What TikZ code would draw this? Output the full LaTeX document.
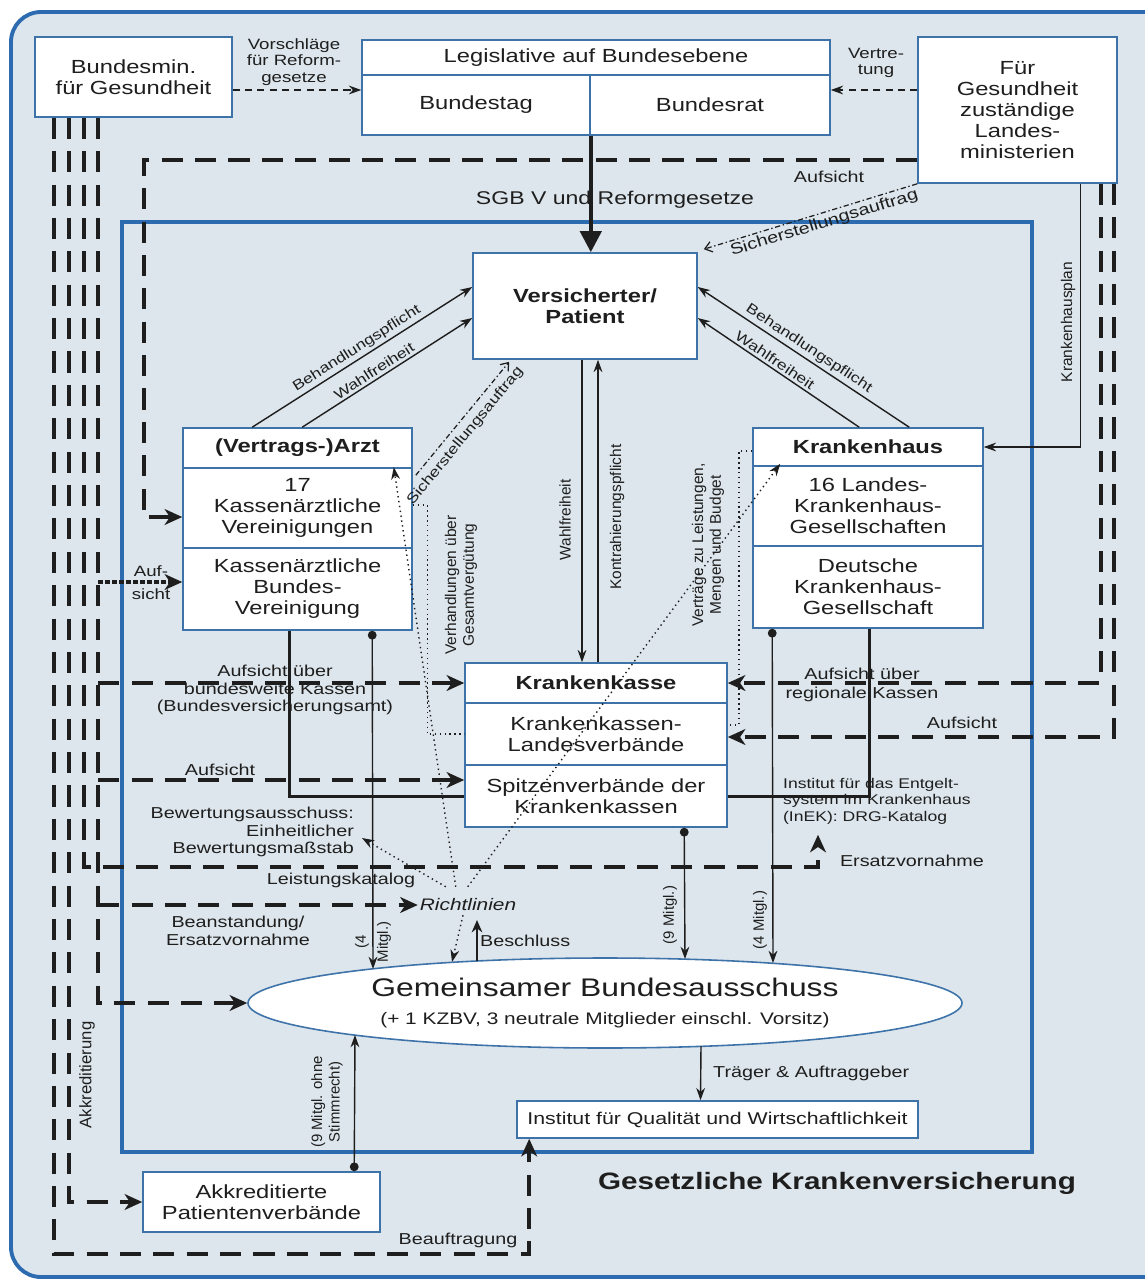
\documentclass[tikz,border=0pt]{standalone}
\usepackage{fontspec}
\setmainfont{Liberation Sans}[FakeStretch=1.25]
\newfontfamily\upfont{Liberation Sans}
\usetikzlibrary{arrows.meta, calc, shapes.geometric}

\definecolor{bgblue}{HTML}{DDE6EC}
\definecolor{frameblue}{HTML}{2C6BB0}
\definecolor{boxblue}{HTML}{3D73A8}
\definecolor{ink}{HTML}{1E1E1E}

\tikzset{
  box/.style 2 args={draw=boxblue, line width=0.9pt, fill=white, text=ink,
    minimum width=#1*0.02cm, minimum height=#2*0.02cm, inner sep=1pt,
    align=center, font=\fontsize{10.8}{12}\selectfont},
  lbl/.style={text=ink, align=center, inner sep=1pt, font=\fontsize{9}{10}\selectfont},
  slbl/.style={text=ink, inner sep=1.5pt, font=\fontsize{8}{9}\selectfont},
  tinylbl/.style={text=ink, align=center, inner sep=1pt, font=\fontsize{8.5}{9.5}\selectfont},
  vlbl/.style={text=ink, align=center, inner sep=1pt, rotate=90, font=\upfont\fontsize{8.8}{10}\selectfont},
  arr/.style={ink, line width=0.8pt, -{Stealth[length=7pt,width=5pt]}},
  dotarr/.style={ink, line width=0.8pt, {Circle[length=5pt]}-{Stealth[length=7pt,width=5pt]}},
  bigdash/.style={ink, line width=2.3pt, dash pattern=on 12pt off 7pt},
  bigarr/.style={bigdash, -{Stealth[length=10pt,width=9pt,inset=3pt]}},
  thindash/.style={ink, line width=0.8pt, dash pattern=on 4pt off 3pt, -{Stealth[length=7pt,width=5pt]}},
  dots/.style={ink, line width=0.8pt, dotted},
  dotsarr/.style={dots, -{Stealth[length=7pt,width=5pt]}},
  dashdot/.style={ink, line width=0.7pt, dash pattern=on 3pt off 1.5pt on 0.8pt off 1.5pt, -{Straight Barb[length=4pt,width=6pt]}},
}

\begin{document}
\begin{tikzpicture}[x=0.02cm, y=-0.02cm]
  \useasboundingbox (0,0) rectangle (1145,1281);
  % Background
  \fill[white] (0,0) rectangle (1145,1281);
  \draw[frameblue, line width=2.2pt, fill=bgblue, rounded corners=0.6cm] (11,12) rectangle (1175,1277);
  % GKV frame
  \draw[frameblue, line width=1.8pt] (122,222) rectangle (1032,1152);

  % Bund und Laender
  \node[box={197}{80}] (bmin) at (133.5,77) {Bundesmin.\\für Gesundheit};
  \node[box={468}{35}] (legis) at (596,57.5) {Legislative auf Bundesebene};
  \node[box={228}{60}] (btag) at (476,105) {Bundestag};
  \node[box={240}{60}] (brat) at (710,105) {Bundesrat};
  \node[box={199}{146}] (land) at (1017.5,110) {Für\\Gesundheit\\zuständige\\Landes-\\ministerien};

  % Versicherter
  \node[box={224}{106}] (versich) at (585,306) {\textbf{Versicherter/}\\\textbf{Patient}};

  % Aerzte
  \node[box={229}{40}] (arzt) at (297.5,448) {\textbf{(Vertrags-)Arzt}};
  \node[box={229}{80}] (kv) at (297.5,508) {17\\Kassenärztliche\\Vereinigungen};
  \node[box={229}{82}] (kbv) at (297.5,589) {Kassenärztliche\\Bundes-\\Vereinigung};

  % Krankenhaus
  \node[box={230}{38}] (khead) at (868,447) {\textbf{Krankenhaus}};
  \node[box={230}{80}] (lkg) at (868,506) {16 Landes-\\Krankenhaus-\\Gesellschaften};
  \node[box={230}{82}] (dkg) at (868,587) {Deutsche\\Krankenhaus-\\Gesellschaft};

  % Krankenkasse
  \node[box={262}{40}] (kkhead) at (596,683) {\textbf{Krankenkasse}};
  \node[box={262}{62}] (kklv) at (596,734) {Krankenkassen-\\Landesverbände};
  \node[box={262}{62}] (spitz) at (596,796) {Spitzenverbände der\\Krankenkassen};

  % G-BA
  \node[ellipse, draw=boxblue, line width=0.9pt, fill=white, text=ink, inner sep=0pt,
    minimum width=714*0.02cm, minimum height=90*0.02cm, align=center,
    font=\fontsize{14.5}{16}\selectfont] (gba) at (605,1003)
    {Gemeinsamer Bundesausschuss\\{\fontsize{9.5}{11}\selectfont(+ 1 KZBV, 3 neutrale Mitglieder einschl. Vorsitz)}};
  \node[box={401}{37}, font=\fontsize{9.7}{11}\selectfont] (iqwig) at (717.5,1119.5) {Institut für Qualität und Wirtschaftlichkeit};
  \node[box={237}{60}] (akk) at (261.5,1202) {Akkreditierte\\Patientenverbände};
  \node[text=ink, font=\bfseries\fontsize{13.5}{15}\selectfont] (gkv) at (837,1183) {Gesetzliche Krankenversicherung};

  % Gesetzgebung
  \draw[thindash] ($(bmin.east)+(0,13)$) -- ($(btag.west)+(0,-15)$);
  \draw[thindash] ($(land.west)+(0,-20)$) -- ($(brat.east)+(0,-15)$);
  \node[tinylbl] (vorschl) at (294,62) {Vorschläge\\für Reform-\\gesetze};
  \node[tinylbl] (vertr) at (876,63) {Vertre-\\tung};
  \node[text=ink, font=\fontsize{10.5}{12}\selectfont] (sgb) at (615,200) {SGB V und Reformgesetze};
  \draw[ink, line width=2.4pt, -{Triangle[length=12pt,width=12pt]}] (btag.south east) -- (btag.south east |- versich.north);

  % Laender
  \draw[bigarr] ($(land.west)+(0,50)$) -| ($(kv.west)+(-38,9)$) -- ($(kv.west)+(0,9)$);
  \node[lbl] (aufs1) at (829,177) {Aufsicht};
  \draw[dashdot] (land.south west) -- ($(versich.north east)+(6,-3)$)
    node[slbl, font=\fontsize{9}{10}\selectfont, pos=0.45, sloped, below] {Sicherstellungsauftrag};
  \draw[arr, line width=0.6pt] ($(land.south east)+(-37,0)$) |- (khead.east);
  \node[vlbl] (khplan) at (1068,322) {Krankenhausplan};
  \draw[bigarr] ($(land.south east)+(-17,0)$) |- (kkhead.east);
  \draw[bigarr] ($(land.south east)+(-4,0)$) |- ($(kklv.east)+(0,3)$);
  \node[lbl, font=\fontsize{9}{11}\selectfont] (aufs2) at (862,685) {Aufsicht über\\regionale Kassen};
  \node[lbl] (aufs3) at (962,723) {Aufsicht};

  % Leistungserbringer und Versicherte
  \draw[arr] ($(arzt.north west)+(70,0)$) -- ($(versich.west)+(0,-19)$) node[slbl, midway, sloped, above] {Behandlungspflicht};
  \draw[arr] ($(arzt.north west)+(120,0)$) -- ($(versich.west)+(0,12)$) node[slbl, pos=0.45, sloped, above] {Wahlfreiheit};
  \draw[arr] ($(khead.north west)+(157,0)$) -- ($(versich.east)+(0,-19)$) node[slbl, midway, sloped, above] {Behandlungspflicht};
  \draw[arr] ($(khead.north west)+(107,0)$) -- ($(versich.east)+(0,12)$) node[slbl, pos=0.55, sloped, above] {Wahlfreiheit};
  \draw[dashdot] ($(kv.north east)+(3,8)$) -- ($(versich.south west)+(37,2)$) node[slbl, pos=0.42, sloped, below=2pt] {Sicherstellungsauftrag};
  \draw[arr] ($(versich.south)+(-3,0)$) -- ($(kkhead.north)+(-14,0)$);
  \draw[arr] ($(kkhead.north)+(2,0)$) -- ($(versich.south)+(13,0)$);
  \node[vlbl] (wahl3) at (565,520) {Wahlfreiheit};
  \node[vlbl] (kontr) at (617,517) {Kontrahierungspflicht};

  % Vertraege
  \draw[dots] ($(kv.east)+(0,-3)$) -| ($(kklv.west)+(-37,0)$) -- (kklv.west);
  \node[vlbl] (verh) at (461,585) {Verhandlungen über\\Gesamtvergütung};
  \draw[dots] ($(khead.west)+(0,4)$) -| ($(kklv.east)+(11,-9)$) -- ($(kklv.east)+(0,-9)$);
  \node[vlbl] (vertraege) at (708,545) {Verträge zu Leistungen,\\Mengen und Budget};
  \draw[ink, line width=1.7pt] ($(kbv.south west)+(107,0)$) |- (spitz.west);
  \draw[ink, line width=1.7pt] ($(dkg.south west)+(117,0)$) |- (spitz.east);

  % Mitglieder im G-BA
  \draw[dotarr] ($(kbv.south west)+(190,0)$) -- ($(gba.center)+(-232,-34)$);
  \node[vlbl, font=\upfont\fontsize{8.5}{12.5}\selectfont] (m1) at (373,942) {(4\\Mitgl.)};
  \draw[dotarr] ($(spitz.south west)+(220,0)$) -- ($(gba.center)+(80,-44)$);
  \node[vlbl, font=\upfont\fontsize{8.5}{10}\selectfont] (m2) at (670,915) {(9 Mitgl.)};
  \draw[dotarr] ($(dkg.south west)+(20,0)$) -- ($(gba.center)+(168,-40)$);
  \node[vlbl, font=\upfont\fontsize{8.5}{10}\selectfont] (m3) at (760,920) {(4 Mitgl.)};
  \draw[dotarr] ($(akk.north west)+(212,0)$) -- ($(gba.center)+(-250,32)$);
  \node[vlbl, font=\upfont\fontsize{8.5}{10}\selectfont] (m4) at (327,1102) {(9 Mitgl. ohne\\Stimmrecht)};
  \draw[arr] ($(gba.center)+(96,43)$) -- ($(iqwig.north)+(-17,0)$)
    node[lbl, midway, right, xshift=0.2cm] {Träger \& Auftraggeber};

  % Richtlinien
  \node[text=ink, inner sep=1pt, font=\itshape\fontsize{9.5}{11}\selectfont] (richt) at (468,905) {Richtlinien};
  \node[lbl, align=right, anchor=east] (bewert) at (356,832) {Bewertungsausschuss:\\Einheitlicher\\Bewertungsmaßstab};
  \draw[dotsarr] ($(richt.north west)+(38,-10)$) -- ($(kv.north east)+(-19,0)$);
  \draw[dotsarr] ($(richt.north west)+(50,-10)$) -- ($(khead.south west)+(28,-3)$);
  \draw[dotsarr] ($(richt.north west)+(28,-10)$) -- ($(bewert.east)+(6,6)$);
  \draw[dotsarr] ($(richt.south)+(-5,2)$) -- ($(gba.center)+(-153,-41)$);
  \draw[ink, line width=1.6pt, -{Stealth[length=7pt,width=6pt]}] ($(gba.center)+(-128,-42)$) -- ($(gba.center)+(-128,-83)$)
    node[lbl, midway, right] {Beschluss};

  % Bundesministerium: Aufsicht, Akkreditierung, Beauftragung
  \coordinate (c1) at ($(bmin.south west)+(20,0)$);
  \coordinate (c2) at ($(bmin.south west)+(35,0)$);
  \coordinate (c3) at ($(bmin.south west)+(50,0)$);
  \coordinate (c4) at ($(bmin.south west)+(64,0)$);
  \draw[bigarr] (c4) |- (gba.west);
  \coordinate (kbvin) at ($(kbv.west)+(0,-7)$);
  \draw[bigarr, dash pattern=on 2.5pt off 1.5pt] (c4 |- kbvin) -- (kbvin);
  \node[tinylbl, font=\fontsize{8.5}{13}\selectfont] (aufs4) at (151,583) {Auf-\\sicht};
  \draw[bigarr] (c4 |- kkhead.west) -- (kkhead.west);
  \node[lbl] (aufs5) at (275,690) {Aufsicht über\\bundesweite Kassen\\(Bundesversicherungsamt)};
  \coordinate (spitzin) at ($(spitz.west)+(0,-16)$);
  \draw[bigarr] (c4 |- spitzin) -- (spitzin);
  \node[lbl] (aufs6) at (220,770) {Aufsicht};
  \draw[bigarr] (c4 |- richt.west) -- (richt.west);
  \node[lbl] (beanst) at (238,931) {Beanstandung/\\Ersatzvornahme};

  \node[lbl, font=\fontsize{8}{9.5}\selectfont, align=left, anchor=north west] (inek) at (781,776)
    {Institut für das Entgelt-\\system im Krankenhaus\\(InEK): DRG-Katalog};
  \coordinate (ersatz) at ($(inek.south west)+(37,40)$);
  \draw[bigarr] (c3) |- (ersatz) -- ($(inek.south west)+(37,8)$);
  \node[lbl] (leist) at (341,880) {Leistungskatalog};
  \node[lbl] (ersatzlbl) at (912,861) {Ersatzvornahme};

  \draw[bigarr] (c2) |- (akk.west);
  \node[vlbl, font=\upfont\fontsize{9.5}{11}\selectfont] (akkr) at (87,1075) {Akkreditierung};
  \draw[bigarr] (c1) |- ($(iqwig.south west)+(13,115)$) -- ($(iqwig.south west)+(13,0)$);
  \node[lbl] (beauf) at (458,1240) {Beauftragung};
\end{tikzpicture}
\end{document}
